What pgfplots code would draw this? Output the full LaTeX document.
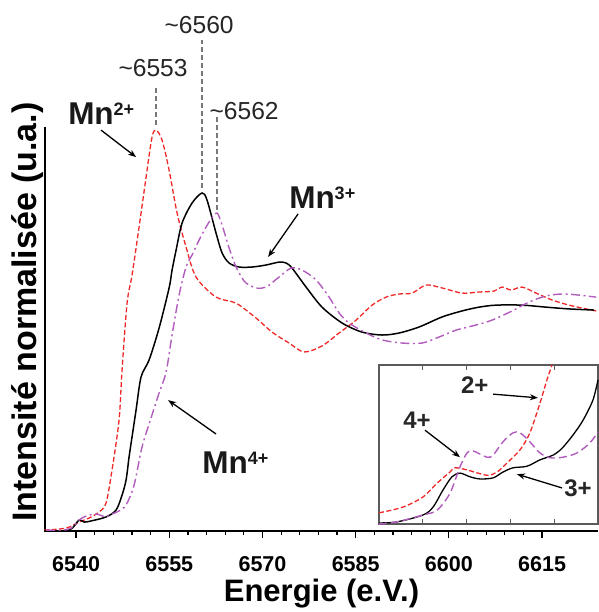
\documentclass[border=0pt]{standalone}
\usepackage{fontspec}
\setmainfont{Liberation Sans}
\usepackage{pgfplots}
\pgfplotsset{compat=1.18}
\usetikzlibrary{arrows.meta}
\definecolor{mnred}{RGB}{240,40,40}
\definecolor{mnpurple}{RGB}{178,92,190}
\definecolor{anngray}{RGB}{120,120,120}
\definecolor{insetgray}{RGB}{90,90,90}
\tikzset{
  redline/.style={mnred, line width=1.3pt, dash pattern=on 5pt off 2.5pt},
  purpleline/.style={mnpurple, line width=1.4pt, dash pattern=on 9pt off 3.5pt on 2pt off 3.5pt},
  blackline/.style={black, line width=1.5pt},
  annline/.style={anngray, line width=1.4pt, dash pattern=on 5pt off 3pt},
  arr/.style={black, line width=1.3pt, -{Stealth[length=8pt,width=6pt]}},
}
\begin{document}
\begin{tikzpicture}
\path[use as bounding box] (-45pt,-81pt) rectangle (553pt,531pt);
\begin{axis}[
  at={(0pt,0pt)}, anchor=south west,
  scale only axis, width=553pt, height=404pt,
  xmin=6535, xmax=6624, ymin=0, ymax=1.812,
  axis x line=bottom, axis y line=left,
  axis line style={-, line width=1.4pt, black},
  xtick={6540,6555,6570,6585,6600,6615},
  minor x tick num=4,
  ytick=\empty,
  tick align=outside,
  major tick length=7pt, minor tick length=4pt,
  every tick/.style={black, line width=1.2pt},
  /pgf/number format/assume math mode=true,
  /pgf/number format/1000 sep={},
  xticklabel style={font=\fontsize{21.5}{24}\selectfont\bfseries, yshift=-15pt},
  clip=false,
]
% Mn2+
\addplot[redline, smooth] coordinates {
(6534.85,0.004)(6538.39,0.013)(6540.48,0.040)(6542.09,0.058)(6543.70,0.085)(6544.83,0.126)(6545.79,0.274)(6546.92,0.498)(6547.40,0.722)(6548.21,1.022)(6549.01,1.148)(6550.14,1.363)(6551.27,1.587)(6552.23,1.767)(6552.88,1.798)(6553.84,1.753)(6554.97,1.619)(6556.26,1.426)(6557.70,1.274)(6559.31,1.139)(6562.53,1.049)(6565.75,1.022)(6568.97,0.955)(6571.55,0.892)(6574.28,0.843)(6576.70,0.803)(6579.59,0.830)(6582.33,0.888)(6585.07,0.946)(6587.64,1.013)(6589.90,1.049)(6591.99,1.063)(6594.08,1.067)(6596.33,1.103)(6598.91,1.090)(6602.13,1.067)(6604.86,1.072)(6607.28,1.076)(6608.57,1.094)(6610.02,1.081)(6611.79,1.094)(6614.04,1.067)(6616.61,1.036)(6619.35,1.013)(6622.09,0.996)(6623.70,0.987)
};
% Mn3+
\addplot[blackline, smooth] coordinates {
(6534.85,0)(6538.87,0.004)(6540.48,0.049)(6541.29,0.040)(6542.41,0.045)(6544.83,0.063)(6546.44,0.094)(6547.40,0.161)(6548.05,0.229)(6548.53,0.332)(6549.01,0.422)(6549.66,0.543)(6550.46,0.691)(6551.75,0.767)(6553.36,0.910)(6554.97,1.090)(6555.45,1.170)(6556.10,1.260)(6557.06,1.381)(6558.67,1.471)(6560.28,1.516)(6561.08,1.484)(6562.53,1.336)(6563.50,1.247)(6564.63,1.202)(6566.23,1.184)(6568.33,1.184)(6570.58,1.193)(6572.67,1.206)(6573.80,1.202)(6574.77,1.179)(6577.02,1.094)(6579.59,1.004)(6582.81,0.933)(6586.03,0.892)(6589.25,0.879)(6591.99,0.888)(6595.21,0.915)(6598.91,0.960)(6602.13,0.987)(6604.86,1.004)(6607.60,1.013)(6611.79,1.013)(6615.65,1.004)(6619.35,0.996)(6623.37,0.991)
};
% Mn4+
\addplot[purpleline, smooth] coordinates {
(6535.17,0.004)(6537.75,0.004)(6539.20,0.013)(6540.48,0.049)(6541.61,0.067)(6543.22,0.076)(6544.83,0.063)(6545.79,0.076)(6546.92,0.090)(6548.05,0.117)(6549.34,0.206)(6550.62,0.377)(6552.07,0.507)(6553.36,0.619)(6554.49,0.713)(6555.45,0.879)(6556.58,1.058)(6557.70,1.184)(6558.67,1.238)(6559.80,1.305)(6560.92,1.363)(6561.73,1.399)(6562.69,1.426)(6563.50,1.372)(6564.63,1.269)(6565.75,1.184)(6566.72,1.135)(6567.36,1.112)(6568.97,1.090)(6570.58,1.094)(6572.67,1.139)(6574.61,1.179)(6576.38,1.170)(6578.63,1.126)(6580.72,1.049)(6582.33,0.978)(6583.94,0.933)(6586.68,0.888)(6589.25,0.857)(6592.47,0.843)(6595.69,0.843)(6598.43,0.870)(6601.16,0.901)(6604.38,0.924)(6606.96,0.946)(6610.18,0.987)(6612.91,1.027)(6615.65,1.054)(6618.23,1.063)(6620.96,1.058)(6623.70,1.049)
};
% peak markers
\draw[annline] (axis cs:6552.88,1.821) -- (axis cs:6552.88,1.996);
\draw[annline] (axis cs:6560.28,1.538) -- (axis cs:6560.28,2.202);
\draw[annline] (axis cs:6562.69,1.439) -- (axis cs:6562.69,1.857);
\node[font=\fontsize{24.6}{26}\selectfont, text=black!85] at (axis cs:6552.39,2.076) {\textasciitilde 6553};
\node[font=\fontsize{24.6}{26}\selectfont, text=black!85] at (axis cs:6559.80,2.269) {\textasciitilde 6560};
\node[font=\fontsize{24.6}{26}\selectfont, text=black!85] at (axis cs:6567.04,1.883) {\textasciitilde 6562};
% labels
\node[anchor=base west, inner sep=0pt, font=\fontsize{31.5}{32}\selectfont\bfseries, text=black!90] at (axis cs:6538.71,1.821) {Mn\raisebox{9pt}{\fontsize{18}{18}\selectfont 2+}};
\draw[arr] (axis cs:6544.02,1.798) -- (axis cs:6549.66,1.677);
\node[anchor=base west, inner sep=0pt, font=\fontsize{31.5}{32}\selectfont\bfseries, text=black!90] at (axis cs:6574.28,1.448) {Mn\raisebox{9pt}{\fontsize{18}{18}\selectfont 3+}};
\draw[arr] (axis cs:6575.73,1.422) -- (axis cs:6570.90,1.229);
\node[anchor=base west, inner sep=0pt, font=\fontsize{31.5}{32}\selectfont\bfseries, text=black!90] at (axis cs:6560.28,0.260) {Mn\raisebox{9pt}{\fontsize{18}{18}\selectfont 4+}};
\draw[arr] (axis cs:6562.53,0.435) -- (axis cs:6554.81,0.587);
% axis titles
\node[anchor=base, font=\fontsize{31}{32}\selectfont\bfseries] at ([yshift=-70pt]axis description cs:0.5,0) {Energie (e.V.)};
\node[anchor=base, rotate=90, font=\fontsize{34}{36}\selectfont\bfseries] at (axis description cs:-0.0145,0.542) {Intensité normalisée (u.a.)};
\end{axis}
% inset
\begin{axis}[
  at={(334pt,7pt)}, anchor=south west,
  scale only axis, width=219pt, height=159pt,
  xmin=6536, xmax=6546, ymin=0, ymax=0.3,
  axis line style={line width=1.5pt, insetgray},
  axis background/.style={fill=white},
  xtick={6538,6540,6542,6544}, xticklabels={},
  ytick=\empty,
  tick align=inside, major tick length=5pt,
  every tick/.style={insetgray, line width=1.2pt},
  clip=false,
]
\addplot[redline, smooth] coordinates {
(6536.00,0.021)(6537.10,0.032)(6538.01,0.051)(6538.65,0.077)(6539.24,0.098)(6539.47,0.106)(6540.02,0.102)(6540.93,0.092)(6541.39,0.098)(6541.84,0.115)(6542.44,0.140)(6542.89,0.172)(6543.35,0.228)(6543.67,0.272)(6543.90,0.300)
};
\addplot[blackline, line width=1.3pt, smooth] coordinates {
(6536.00,0.002)(6536.82,0.004)(6538.01,0.017)(6538.47,0.032)(6538.92,0.064)(6539.33,0.089)(6539.70,0.096)(6540.16,0.089)(6540.61,0.085)(6541.21,0.087)(6541.66,0.098)(6542.12,0.106)(6542.76,0.109)(6543.35,0.121)(6543.95,0.130)(6544.36,0.143)(6544.86,0.168)(6545.32,0.196)(6545.77,0.234)(6546.00,0.272)
};
\addplot[mnpurple, line width=1.4pt, dash pattern=on 8pt off 4pt, smooth] coordinates {
(6536.00,0.000)(6536.82,0.004)(6538.01,0.017)(6538.65,0.026)(6539.24,0.058)(6539.70,0.108)(6540.02,0.134)(6540.29,0.138)(6540.93,0.126)(6541.21,0.130)(6541.66,0.155)(6542.12,0.172)(6542.44,0.172)(6542.89,0.155)(6543.35,0.134)(6543.81,0.125)(6544.40,0.126)(6545.04,0.134)(6545.63,0.153)(6546.00,0.174)
};
\node[anchor=base west, inner sep=0pt, font=\fontsize{24}{26}\selectfont\bfseries, text=black!85] at (axis cs:6539.74,0.247) {2+};
\draw[arr] (axis cs:6541.21,0.245) -- (axis cs:6543.26,0.238);
\node[anchor=base west, inner sep=0pt, font=\fontsize{24}{26}\selectfont\bfseries, text=black!85] at (axis cs:6537.10,0.181) {4+};
\draw[arr] (axis cs:6538.10,0.177) -- (axis cs:6539.70,0.126);
\node[anchor=base west, inner sep=0pt, font=\fontsize{24}{26}\selectfont\bfseries, text=black!85] at (axis cs:6544.45,0.051) {3+};
\draw[arr] (axis cs:6544.36,0.068) -- (axis cs:6542.30,0.094);
\end{axis}
\end{tikzpicture}
\end{document}
